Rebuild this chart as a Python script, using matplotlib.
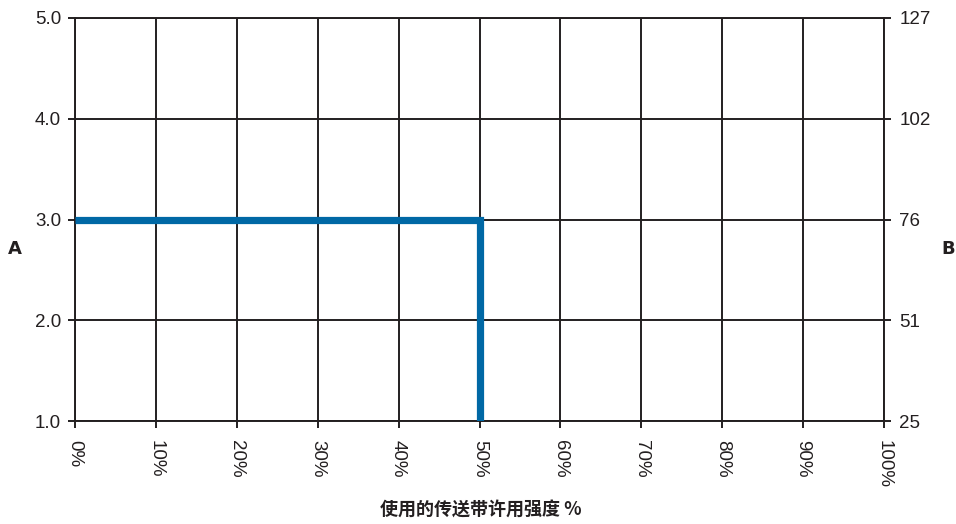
import matplotlib
matplotlib.use('Agg')
import matplotlib.pyplot as plt

plt.rcParams.update({
    'font.family': ['Liberation Sans', 'DejaVu Sans'],
    'font.size': 13.5,
})

# data
x_pct = [0, 50, 50]
y_a = [3.0, 3.0, 1.0]
x_ticks = [0, 10, 20, 30, 40, 50, 60, 70, 80, 90, 100]
x_ticklabels = [f'{v}%' for v in x_ticks]
left_ticks = [1.0, 2.0, 3.0, 4.0, 5.0]
right_ticks = [25, 51, 76, 102, 127]
xlabel = '使用的传送带许用强度 %'

INK = '#231f20'
BLUE = '#0068a5'

fig = plt.figure(figsize=(9.56, 5.24), dpi=100)
ax = fig.add_axes([75 / 956, 1 - 421 / 524, 809 / 956, 403 / 524])

ax.plot(x_pct, y_a, color=BLUE, linewidth=5.2, solid_capstyle='butt',
        solid_joinstyle='miter', zorder=3)

ax.set_xlim(0, 100)
ax.set_ylim(1.0, 5.0)
ax.set_xticks(x_ticks)
ax.set_xticklabels(x_ticklabels, rotation=270)
ax.set_yticks(left_ticks)
ax.set_yticklabels([f'{v:.1f}' for v in left_ticks])
ax.grid(True, color=INK, linewidth=1.4)
for s in ax.spines.values():
    s.set_color(INK)
    s.set_linewidth(1.4)
ax.tick_params(axis='y', colors=INK, width=1.4, length=5, labelcolor=INK, pad=5)
ax.tick_params(axis='x', colors=INK, width=1.4, length=5, labelcolor=INK, pad=9)

ax2 = ax.twinx()
ax2.set_ylim(1.0, 5.0)
ax2.set_yticks(left_ticks)
ax2.set_yticklabels([str(v) for v in right_ticks])
ax2.tick_params(colors=INK, width=1.4, length=5, labelcolor=INK, pad=6)
for s in ax2.spines.values():
    s.set_visible(False)

side_font = ['Liberation Sans Narrow', 'DejaVu Sans']
fig.text(15 / 956, 1 - 249 / 524, 'A', fontsize=13, fontweight='bold',
         family=side_font, ha='center', va='center', color=INK)
fig.text(948 / 956, 1 - 249 / 524, 'B', fontsize=13, fontweight='bold',
         family=side_font, ha='center', va='center', color=INK)
fig.text(481 / 956, 1 - 510 / 524, xlabel, fontsize=13, fontweight='bold',
         family=['Noto Sans CJK SC', 'DejaVu Sans'], ha='center', va='center', color=INK)

fig.savefig('out.png', dpi=100)
